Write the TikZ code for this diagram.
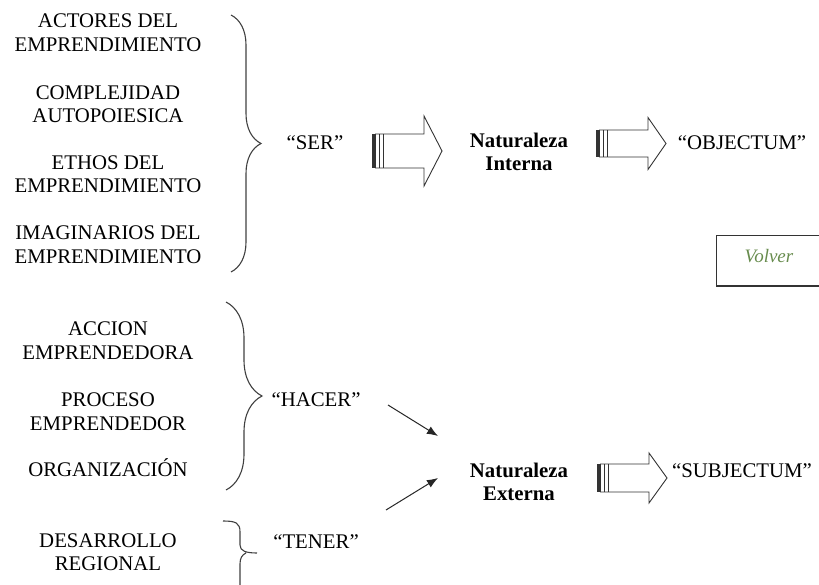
\documentclass[tikz,border=0pt]{standalone}
\usepackage{fontspec}
\setmainfont{Liberation Serif}
\usetikzlibrary{decorations.pathreplacing,arrows.meta}

\definecolor{volvergreen}{RGB}{104,140,78}

\tikzset{
  pics/fat arrow/.style 2 args={code={
    \draw[line width=0.9pt,draw=black!80,line join=miter]
      (3,-#1) -- (52,-#1) -- (52,-#2) -- (70,0) -- (52,#2) -- (52,#1) -- (3,#1);
    \fill[black!80] (0,-#1) rectangle (3.5,#1);
    \draw[line width=0.9pt,draw=black!80] (7,-#1) -- (7,#1);
    \draw[line width=0.9pt,draw=black!80] (11,-#1) -- (11,#1);
  }}
}

\begin{document}
\begin{tikzpicture}[x=1pt,y=-1pt,
  every node/.style={font=\fontsize{20.8}{23.5}\selectfont,align=center,inner sep=0pt},
  bold node/.style={font=\fontsize{20.8}{23}\selectfont\bfseries},
  curly/.style={decorate,decoration={brace,amplitude=#1},line width=1.1pt,draw=black!75},
  small arrow/.style={-{Latex[length=11pt,width=8.5pt]},line width=1pt,draw=black!85}]
  \useasboundingbox (0,0) rectangle (819,585);
  \clip (0,0) rectangle (819,585);

  % left column, upper group
  \node (act) at (108,32.5) {ACTORES DEL\\EMPRENDIMIENTO};
  \node (comp) at (108,104) {COMPLEJIDAD\\AUTOPOIESICA};
  \node (eth) at (108,174) {ETHOS DEL\\EMPRENDIMIENTO};
  \node (ima) at (108,244.5) {IMAGINARIOS DEL\\EMPRENDIMIENTO};

  % left column, lower groups
  \node (acc) at (108,340.5) {ACCION\\EMPRENDEDORA};
  \node (pro) at (108,411.5) {PROCESO\\EMPRENDEDOR};
  \node (org) at (108,468) {ORGANIZACIÓN};
  \node (des) at (108,552) {DESARROLLO\\REGIONAL};

  % braces
  \draw[curly=30pt] (231,15) -- (231,272);
  \draw[curly=36pt] (226,302) -- (226,490);
  \draw[line width=1.1pt,draw=black!75]
    (223,521) .. controls (236,521) and (240,523) .. (240,532)
    -- (240,545) .. controls (240,551) and (246,553) .. (257,553)
    (246,553) .. controls (242,555) and (240,558) .. (240,564) -- (240,590);

  \node (ser) at (315,143) {“SER”};
  \node (hacer) at (316,400) {“HACER”};
  \node (tener) at (316,542) {“TENER”};

  \node[bold node] (nint) at (519,151.5) {Naturaleza\\Interna};
  \node[bold node] (next) at (519,481.5) {Naturaleza\\Externa};

  \node (obj) at (742,143) {“OBJECTUM”};
  \node (subj) at (742,471) {“SUBJECTUM”};

  % big striped arrows
  \pic at (372,151) {fat arrow={17}{35}};
  \pic at (596,143.5) {fat arrow={13.5}{26}};
  \pic at (597,478) {fat arrow={14}{25}};

  % small arrows into Naturaleza Externa
  \coordinate (h1) at (388,405);
  \coordinate (h2) at (438,436);
  \coordinate (t1) at (386,510);
  \coordinate (t2) at (438,478);
  \draw[small arrow] (h1) -- (h2);
  \draw[small arrow] (t1) -- (t2);

  % Volver box
  \node[draw=black!80,line width=0.9pt,minimum width=130pt,minimum height=50pt,anchor=north west] (vbox) at (716,235) {};
  \draw[line width=2pt,draw=black!80] (vbox.south west) -- (vbox.south east);
  \node[font=\fontsize{19}{22}\selectfont\itshape,text=volvergreen] (volver) at (769,256) {Volver};
\end{tikzpicture}
\end{document}
